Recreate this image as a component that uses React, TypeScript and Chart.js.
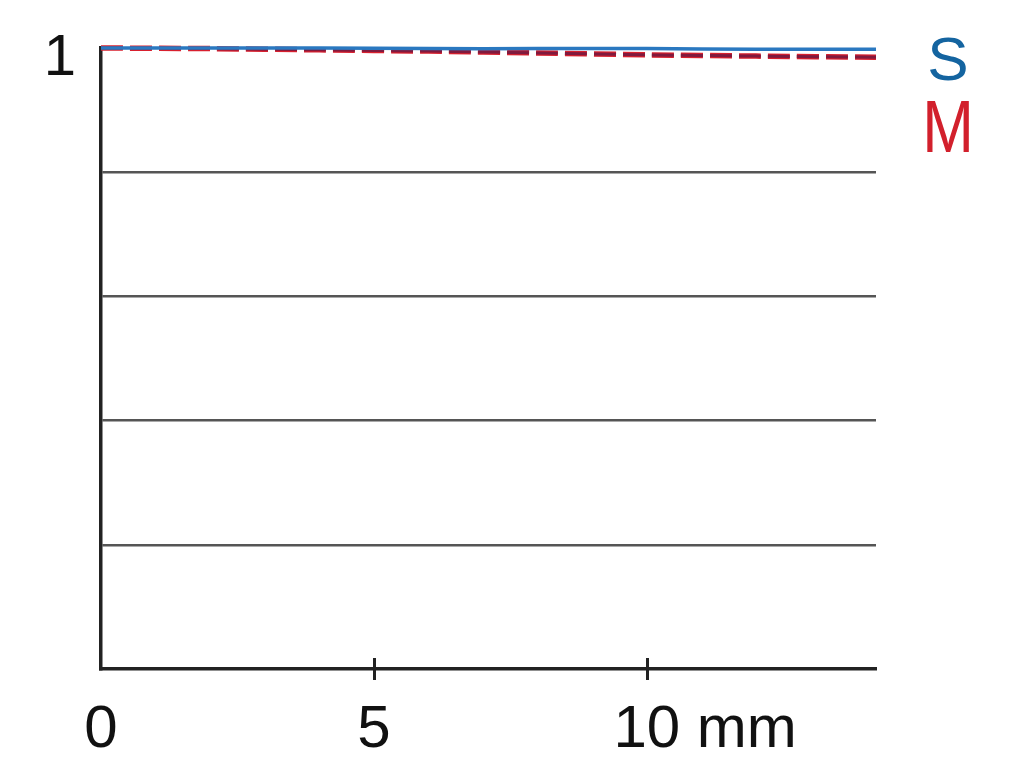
import React, { useEffect, useRef } from "react";
import { Chart, registerables } from "chart.js";

Chart.register(...registerables);

const xPositions = [0, 2, 4, 6, 8, 10, 12, 14.2];
const sagittal = [1.0, 1.0, 1.0, 0.999, 0.999, 0.999, 0.998, 0.998];
const meridional = [1.0, 0.999, 0.997, 0.995, 0.992, 0.989, 0.987, 0.985];
const xTickValues = [0, 5, 10];
const xTickLabels = ["0", "5", "10"];
const xUnit = " mm";
const yTickLabel = "1";
const seriesLabels = ["S", "M"];

const FONT = "'Liberation Sans', Arial, sans-serif";

const labelPlugin = {
  id: "labels",
  afterDraw(chart: any) {
    const { ctx, scales } = chart;
    const xs = scales.x;
    const ys = scales.y;
    const yAxis = ys.getPixelForValue(0);
    ctx.save();
    ctx.strokeStyle = "#222";
    ctx.lineWidth = 3;
    xTickValues.slice(1).forEach((v) => {
      const px = Math.round(xs.getPixelForValue(v)) + 0.5;
      ctx.beginPath();
      ctx.moveTo(px, yAxis - 11);
      ctx.lineTo(px, yAxis + 11);
      ctx.stroke();
    });
    ctx.fillStyle = "#111";
    ctx.font = `60px ${FONT}`;
    ctx.textBaseline = "alphabetic";
    xTickValues.forEach((v, i) => {
      const px = xs.getPixelForValue(v);
      const lbl = xTickLabels[i];
      const w = ctx.measureText(lbl).width;
      ctx.textAlign = "left";
      const text = i === xTickValues.length - 1 ? lbl + xUnit : lbl;
      ctx.fillText(text, px - w / 2, 747);
    });
    ctx.font = `58px ${FONT}`;
    ctx.textAlign = "right";
    ctx.fillText(yTickLabel, 76, ys.getPixelForValue(1) + 27);
    ctx.textAlign = "center";
    ctx.font = `62px ${FONT}`;
    ctx.fillStyle = "#1464a0";
    ctx.fillText(seriesLabels[0], 948, 80);
    ctx.fillStyle = "#d2202c";
    ctx.save();
    ctx.translate(948, 152);
    ctx.scale(1, 1.2);
    ctx.fillText(seriesLabels[1], 0, 0);
    ctx.restore();
    ctx.restore();
  },
};

export default function App() {
  const ref = useRef<HTMLCanvasElement>(null);
  useEffect(() => {
    document.body.style.margin = "0";
    const chart = new Chart(ref.current!, {
      type: "line",
      data: {
        datasets: [
          {
            label: "S",
            data: xPositions.map((x, i) => ({ x, y: sagittal[i] })),
            borderColor: "#2a78c0",
            borderWidth: 3.5,
            pointRadius: 0,
            tension: 0.3,
            order: 0,
          },
          {
            label: "M",
            data: xPositions.map((x, i) => ({ x, y: meridional[i] })),
            borderColor: "#d8202e",
            borderWidth: 5.5,
            borderDash: [22, 7],
            pointRadius: 0,
            tension: 0.3,
            order: 2,
          },
          {
            label: "M core",
            data: xPositions.map((x, i) => ({ x, y: meridional[i] })),
            borderColor: "#801a3e",
            borderWidth: 3,
            borderDash: [22, 7],
            pointRadius: 0,
            tension: 0.3,
            order: 1,
          },
        ],
      },
      options: {
        animation: false,
        responsive: false,
        clip: false as any,
        layout: { padding: { left: 101, top: 48, right: 148, bottom: 101 } },
        plugins: { legend: { display: false }, tooltip: { enabled: false } },
        scales: {
          x: {
            type: "linear",
            min: 0,
            max: 14.2,
            ticks: { display: false },
            grid: { display: false, drawTicks: false },
            border: { display: true, color: "#222", width: 3.5 },
          },
          y: {
            type: "linear",
            min: 0,
            max: 1,
            ticks: { display: false, stepSize: 0.2 },
            grid: {
              drawTicks: false,
              lineWidth: 2.5,
              color: (c: any) =>
                c.tick && (c.tick.value <= 0.001 || c.tick.value >= 0.999)
                  ? "rgba(0,0,0,0)"
                  : "#555555",
            },
            border: { display: true, color: "#222", width: 3.5 },
          },
        },
      },
      plugins: [labelPlugin],
    });
    return () => chart.destroy();
  }, []);
  return <canvas ref={ref} width={1024} height={770} style={{ display: "block" }} />;
}
